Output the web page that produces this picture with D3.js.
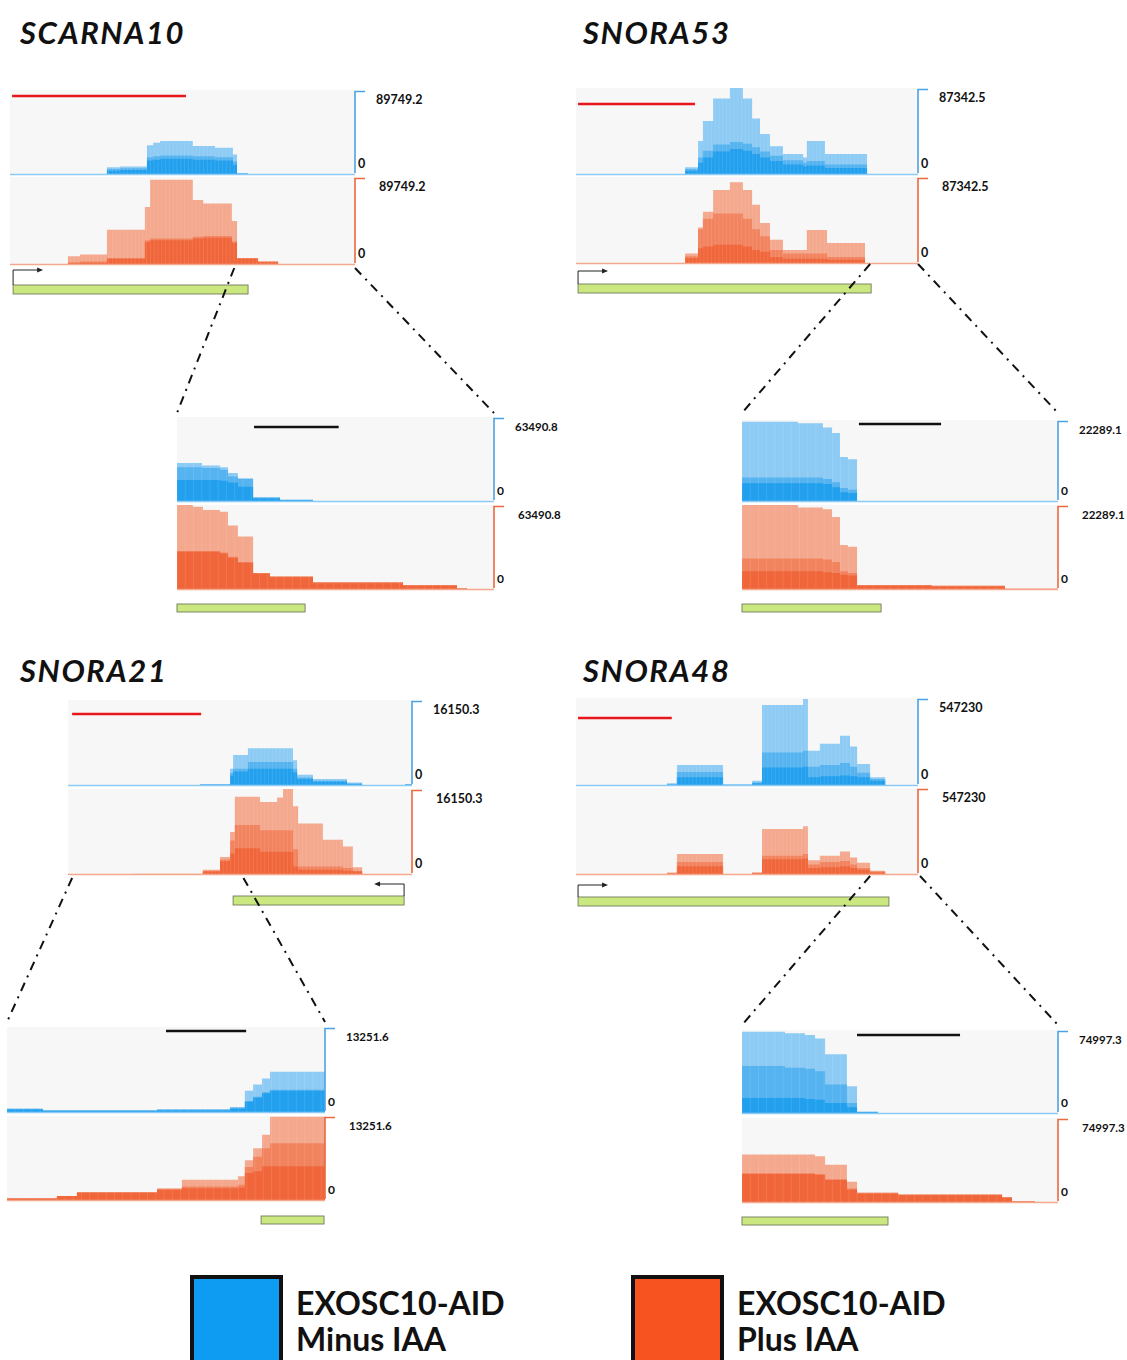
<!DOCTYPE html>
<html>
<head>
<meta charset="utf-8">
<script src="https://cdn.jsdelivr.net/npm/d3@7"></script>
<style>
  body { margin: 0; background: #fff; }
  svg { display: block; }
</style>
</head>
<body>
<svg id="fig" width="1127" height="1360"></svg>
<script>
// coverage tracks: each row = [segment end (% of window), light, mid, dark] in % of track max
var scarna10Minus = [[14.5,0,0,0],[28.1,1,1,0.5],[31.9,9,7,5],[39.7,10,8,6],[41.5,35,21,17],[43.5,38,22,18],[53,40,23,19],[59.4,34,22,18],[64.6,32,21,17],[65.8,24,16,12],[69,2,2,1],[100,0.4,0.4,0.3]];
var scarna10Plus  = [[7.8,0,0,0],[16.8,0.6,0.5,0.4],[20.3,10,3,2],[28.1,12,4,2.5],[39.1,40,8,7],[40.6,66,28,26],[53,97,30,28],[56,74,32,30],[64.3,70,33,31],[65.8,50,27,25],[71.9,8,8,7],[77.7,4,4,3],[100,0.3,0.3,0.2]];
var snora53Minus  = [[27.5,0,0,0],[31.9,1,1,0.5],[35.7,9,7,5],[37.1,39,20,14],[40.1,62,28,20],[45,88,35,27],[48.8,100,38,30],[51.5,88,36,28],[53.8,65,32,24],[56.7,47,27,20],[60.5,33,22,16],[66.4,24,17,12],[67.5,20,14,10],[72.8,39,16,11],[85.1,24,12,8],[100,0.3,0.3,0.2]];
var snora53Plus   = [[27.5,0,0,0],[31.9,0.8,0.6,0.5],[35.7,12,9,7],[37.1,42,40,18],[40.1,60,52,20],[45,85,58,22],[48.8,94,58,22],[51.5,85,52,20],[53.8,68,40,16],[56.7,47,32,14],[60.5,28,16,8],[67.5,16,12,6],[73.4,39,12,6],[84.5,24,8,5],[91.8,1,1,0.5],[100,0,0,0]];
var snora21Minus  = [[18.9,0.3,0.3,0.2],[38.4,1.2,1,0.8],[47.1,2,1.8,1.5],[48,20,15,12],[52.3,36,20,17],[65.4,44,28,20],[66.6,30,20,16],[71.2,13,10,8],[81.1,8,6,5],[85.5,4,3,2],[98,1,1,0.8],[100,2,2,1.5]];
var snora21Plus   = [[18.9,0.3,0.3,0.2],[39.2,1.5,1.2,1],[44.2,6,5,4],[47.1,21,18,16],[48.5,50,40,25],[55.8,91,58,31],[60.8,85,52,27],[62.5,90,52,27],[65.4,100,52,27],[66.9,80,30,10],[74.1,60,10,6],[79.9,41,10,6],[82.8,33,8,5],[85.5,9,5,4],[100,0.6,0.5,0.4]];
var snora48Minus  = [[19.6,0,0,0],[26.6,1,0.8,0.5],[29.5,3,2,1.5],[43,24,16,10],[51.5,2,1.5,1],[54.4,6,4,3],[66.4,92,38,21],[67.8,99,40,22],[71.3,40,22,10],[77.2,48,24,11],[80.1,57,26,12],[82.2,45,22,11],[86,25,15,10],[90.4,10,8,6],[100,0,0,0]];
var snora48Plus   = [[17,0,0,0],[26.6,0.8,0.6,0.5],[29.5,3,2,1.5],[43,24,15,10],[51.5,1,0.8,0.5],[54.4,3,2.5,2],[66.4,53,22,18],[67.8,56,24,19],[71.3,17,12,8],[77.2,22,15,9],[80.1,27,16,10],[82.2,20,12,8],[86,14,8,6],[90.4,5,4,3],[94.7,0.8,0.6,0.4],[100,0,0,0]];

var scarna10ZoomMinus = [[7.9,46,41,26],[13.6,43,40,26],[16.1,41,38,25],[19.2,34,30,23],[24,28,27,18],[32.5,6,5,4],[42.9,3,2.5,2],[100,0.6,0.5,0.4]];
var scarna10ZoomPlus  = [[5,100,46,45],[8.2,98,46,45],[13.6,94,46,45],[16.1,92,44,43],[19.2,76,39,38],[24,63,33,32],[29.3,20,20,19],[42.9,16,16,15],[71.3,9,9,8],[88.3,6,6,5],[91.5,2,2,1.5],[100,0.4,0.4,0.3]];
var snora53ZoomMinus  = [[17.7,98,30,23],[25.6,96,30,23],[28.5,91,28,22],[31,84,24,18],[33.5,55,17,12],[36.4,52,15,11],[83.2,0.6,0.5,0.4],[100,0.2,0.2,0.1]];
var snora53ZoomPlus   = [[17.7,100,37,22],[25.6,97,37,22],[28.5,95,36,21],[31,86,33,20],[33.5,53,22,18],[36.4,51,20,17],[60,6,6,5],[83.2,5,5,4],[100,1.5,1.5,1]];
var snora21ZoomMinus  = [[11.3,5,5,4],[47.2,3,3,2.5],[70.1,4,4,3],[74.8,7,6,5],[77.4,26,14,13],[80.2,33,19,18],[82.7,40,24,23],[100,48,27,26]];
var snora21ZoomPlus   = [[15.7,3,3,3],[22,6,6,6],[47.2,10,10,10],[55,15,14,13],[72.6,25,17,15],[74.8,29,19,16],[77.4,48,40,33],[80.2,62,52,35],[82.7,78,62,41],[100,99,68,41]];
var snora48ZoomMinus  = [[13.6,98,57,19],[19.9,96,55,19],[23.1,94,54,18],[26.3,90,51,17],[33.2,71,35,13],[36.4,33,13,8],[43,3,2.5,2],[55,1,1,0.8],[100,0.4,0.3,0.2]];
var snora48ZoomPlus   = [[23.1,57,35,34],[26.3,55,34,33],[33.2,45,28,27],[36.4,25,17,16],[49.4,12,12,11],[82.3,10,10,9],[85.4,7,7,6],[92.7,2,2,1.5],[100,0.5,0.5,0.4]];

var geneNames = ['SCARNA10', 'SNORA53', 'SNORA21', 'SNORA48'];
var mainMax = ['89749.2', '87342.5', '16150.3', '547230'];
var zoomMax = ['63490.8', '22289.1', '13251.6', '74997.3'];
var legendLabels = [['EXOSC10-AID', 'Minus IAA'], ['EXOSC10-AID', 'Plus IAA']];

var blueShades = ['#8dcbf4', '#55b3f0', '#22a0ee'];
var orangeShades = ['#f4a88d', '#f2835f', '#f0663a'];
var blueLine = '#4aa3e6', orangeLine = '#ea6a40';

// layout of windows (pixel boxes)
var panels = [
  { tx: 20, ty: 44,
    main: { x: 10, w: 345, blue: [90, 85], orange: [177, 88], minus: scarna10Minus, plus: scarna10Plus,
            bar: { c: '#e8161b', y: 96, a: 0.6, b: 51 }, gene: { a: 0.9, b: 69, y: 285 }, tss: { at: 0.9, dir: 1, y: 270 },
            cut: [65, 100], cutY: 268 },
    zoom: { x: 177, w: 317, blue: [417, 85], orange: [505, 85], minus: scarna10ZoomMinus, plus: scarna10ZoomPlus,
            bar: { c: '#111', y: 427, a: 24.3, b: 51 }, gene: { a: 0, b: 40.4, y: 604 }, topY: 413 } },
  { tx: 583, ty: 44,
    main: { x: 576, w: 342, blue: [88, 87], orange: [177, 87], minus: snora53Minus, plus: snora53Plus,
            bar: { c: '#e8161b', y: 104, a: 0.6, b: 34.8 }, gene: { a: 0.6, b: 86.3, y: 284 }, tss: { at: 0.6, dir: 1, y: 271 },
            cut: [86, 100], cutY: 264 },
    zoom: { x: 742, w: 316, blue: [420, 82], orange: [505, 85], minus: snora53ZoomMinus, plus: snora53ZoomPlus,
            bar: { c: '#111', y: 424, a: 37, b: 63 }, gene: { a: 0, b: 44, y: 604 }, topY: 413 } },
  { tx: 20, ty: 682,
    main: { x: 68, w: 344, blue: [700, 86], orange: [789, 86], minus: snora21Minus, plus: snora21Plus,
            bar: { c: '#e8161b', y: 714, a: 1.2, b: 38.7 }, gene: { a: 48, b: 97.7, y: 896 }, tss: { at: 97.7, dir: -1, y: 884 },
            cut: [1.2, 51], cutY: 878 },
    zoom: { x: 7, w: 318, blue: [1027, 86], orange: [1116, 85], minus: snora21ZoomMinus, plus: snora21ZoomPlus,
            bar: { c: '#111', y: 1031, a: 50, b: 75.2 }, gene: { a: 79.9, b: 99.7, y: 1216 }, topY: 1022 } },
  { tx: 583, ty: 682,
    main: { x: 576, w: 342, blue: [698, 88], orange: [788, 87], minus: snora48Minus, plus: snora48Plus,
            bar: { c: '#e8161b', y: 718, a: 0.6, b: 28 }, gene: { a: 0.6, b: 91.5, y: 897 }, tss: { at: 0.6, dir: 1, y: 885 },
            cut: [86, 100.6], cutY: 876 },
    zoom: { x: 742, w: 316, blue: [1030, 84], orange: [1118, 85], minus: snora48ZoomMinus, plus: snora48ZoomPlus,
            bar: { c: '#111', y: 1035, a: 36.4, b: 69 }, gene: { a: 0, b: 46.2, y: 1217 }, topY: 1025 } }
];

var svg = d3.select('#fig');
var numFont = 'Lato, "Open Sans", sans-serif';

function segPoints(rows) {
  var pts = [], start = 0;
  rows.forEach(function(r) { pts.push({ x: start, v: r.slice(1) }); start = r[0]; });
  pts.push({ x: 100, v: rows[rows.length - 1].slice(1) });
  return pts;
}

function drawTrack(g, x, box, rows, shades, lineColor, maxLabel, small) {
  var top = box[0], h = box[1], base = top + h;
  var y = d3.scaleLinear().domain([0, 100]).range([base, top]);
  g.append('rect').attr('x', x.range()[0]).attr('y', top).attr('width', x.range()[1] - x.range()[0])
    .attr('height', h).attr('fill', '#f7f7f7');
  var pts = segPoints(rows);
  [0, 1, 2].forEach(function(i) {
    var area = d3.area().curve(d3.curveStepAfter)
      .x(function(d) { return x(d.x); }).y0(base).y1(function(d) { return y(d.v[i]); });
    g.append('path').attr('d', area(pts)).attr('fill', shades[i]);
  });
  // fine vertical striations like the browser bars
  var ticks = d3.range(0, 100, small ? 2.6 : 1.1);
  g.append('g').selectAll('line').data(ticks).enter().append('line')
    .attr('x1', function(d) { return x(d); }).attr('x2', function(d) { return x(d); })
    .attr('y1', base).attr('y2', function(d) {
      var seg = pts.filter(function(p) { return p.x <= d; }).pop();
      return y(seg ? seg.v[0] : 0);
    })
    .attr('stroke', '#fff').attr('stroke-opacity', 0.18).attr('stroke-width', 0.6);
  g.append('line').attr('x1', x.range()[0]).attr('x2', x.range()[1]).attr('y1', base - 0.5).attr('y2', base - 0.5)
    .attr('stroke', shades[0]).attr('stroke-width', 1.5);
  // scale bracket
  var bx = x.range()[1];
  g.append('path').attr('d', d3.line()([[bx + 10, top + 1.5], [bx, top + 1.5], [bx, base - 2]]))
    .attr('fill', 'none').attr('stroke', lineColor).attr('stroke-width', 1.6);
  g.append('text').attr('x', bx + 21 + (lineColor === orangeLine ? 3 : 0)).attr('y', top + 14)
    .attr('font-family', numFont).attr('font-weight', 700).attr('font-size', small ? 11.5 : 12.5)
    .attr('fill', '#111').text(maxLabel);
  g.append('text').attr('x', bx + 3).attr('y', base - 7)
    .attr('font-family', numFont).attr('font-weight', 700).attr('font-size', small ? 12 : 12.5)
    .attr('fill', '#111').text('0');
}

function drawWindow(win, maxLabel, small) {
  var g = svg.append('g');
  var x = d3.scaleLinear().domain([0, 100]).range([win.x, win.x + win.w]);
  drawTrack(g, x, win.blue, win.minus, blueShades, blueLine, maxLabel, small);
  drawTrack(g, x, win.orange, win.plus, orangeShades, orangeLine, maxLabel, small);
  g.append('line').attr('x1', x(win.bar.a)).attr('x2', x(win.bar.b)).attr('y1', win.bar.y).attr('y2', win.bar.y)
    .attr('stroke', win.bar.c).attr('stroke-width', 2.6);
  g.append('rect').attr('x', x(win.gene.a)).attr('y', win.gene.y).attr('width', x(win.gene.b) - x(win.gene.a))
    .attr('height', small ? 8 : 9).attr('fill', '#cbe780').attr('stroke', '#6f7a5c').attr('stroke-width', 0.9);
  if (win.tss) {
    var tx = x(win.tss.at), ty = win.tss.y, gy = win.gene.y;
    g.append('path').attr('d', d3.line()([[tx, gy], [tx, ty], [tx + win.tss.dir * 28, ty]]))
      .attr('fill', 'none').attr('stroke', '#222').attr('stroke-width', 1);
    var hx = tx + win.tss.dir * 30;
    g.append('path').attr('d', d3.line()([[hx, ty], [hx - win.tss.dir * 6, ty - 2.5], [hx - win.tss.dir * 6, ty + 2.5]]) + 'Z')
      .attr('fill', '#222');
  }
  return x;
}

panels.forEach(function(p, i) {
  svg.append('text').attr('x', p.tx).attr('y', p.ty)
    .attr('font-family', 'Lato, sans-serif').attr('font-weight', 700).attr('font-style', 'italic')
    .attr('font-size', 31).attr('letter-spacing', 1.6).attr('fill', '#111').text(geneNames[i]);
  var xm = drawWindow(p.main, mainMax[i], false);
  var xz = drawWindow(p.zoom, zoomMax[i], true);
  // dash-dot connectors from the main window to the zoomed window
  var ends = [[p.main.cut[0], xz.range()[0]], [p.main.cut[1], xz.range()[1]]];
  ends.forEach(function(e) {
    svg.append('line').attr('x1', xm(e[0])).attr('y1', p.main.cutY).attr('x2', e[1]).attr('y2', p.zoom.topY)
      .attr('stroke', '#111').attr('stroke-width', 2).attr('stroke-dasharray', '9,6,2,6');
  });
});

// legend
var legend = svg.append('g');
var legendX = d3.scaleOrdinal().domain([0, 1]).range([190, 631]);
var legendFill = [ '#0d9cf1', '#f65321' ];
legendLabels.forEach(function(l, i) {
  var lx = legendX(i);
  legend.append('rect').attr('x', lx + 2).attr('y', 1277).attr('width', 89).attr('height', 100)
    .attr('fill', legendFill[i]).attr('stroke', '#111').attr('stroke-width', 4);
  l.forEach(function(t, j) {
    legend.append('text').attr('x', lx + 106).attr('y', 1315 + j * 36)
      .attr('font-family', 'Lato, sans-serif').attr('font-weight', 700).attr('font-size', 32)
      .attr('fill', '#111').text(t);
  });
});
</script>
</body>
</html>
